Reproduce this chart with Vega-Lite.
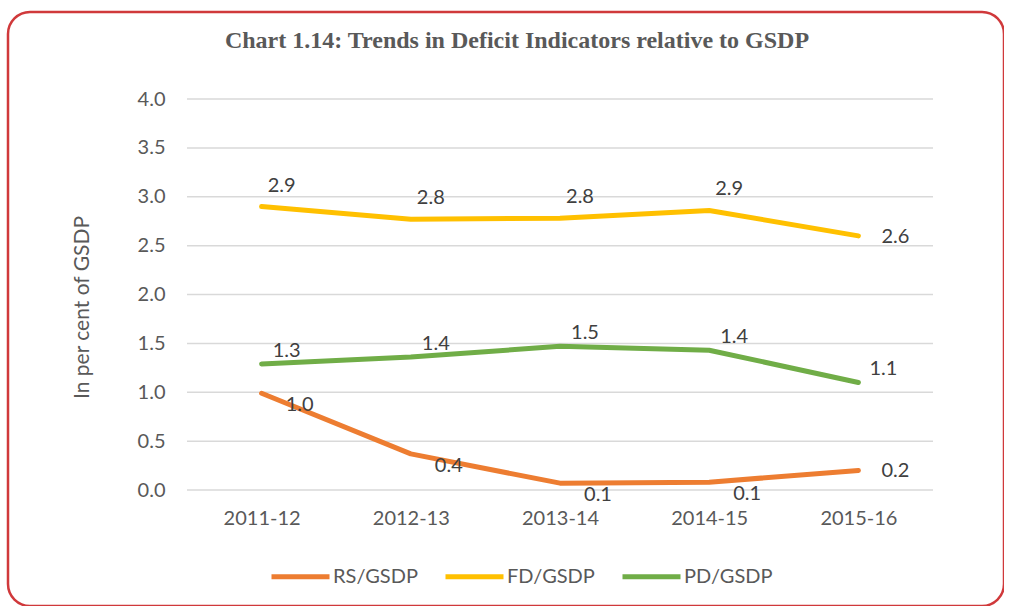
{
  "$schema": "https://vega.github.io/schema/vega-lite/v6.json",
  "autosize": {"type": "none"},
  "padding": {"left": 8, "top": 12, "right": 0, "bottom": 0},
  "width": 996,
  "height": 594,
  "background": "white",
  "title": {
    "text": "Chart 1.14: Trends in Deficit Indicators relative to GSDP",
    "font": "Liberation Serif",
    "fontSize": 24,
    "fontWeight": "bold",
    "color": "#595959",
    "anchor": "middle",
    "frame": "group",
    "baseline": "middle",
    "offset": -53,
    "dx": 11
  },
  "datasets": {
    "grid": [{"g": 0}, {"g": 0.5}, {"g": 1}, {"g": 1.5}, {"g": 2}, {"g": 2.5}, {"g": 3}, {"g": 3.5}, {"g": 4}],
    "series": [
      {"year": "2011-12", "series": "RS/GSDP", "value": 0.99},
      {"year": "2012-13", "series": "RS/GSDP", "value": 0.37},
      {"year": "2013-14", "series": "RS/GSDP", "value": 0.07},
      {"year": "2014-15", "series": "RS/GSDP", "value": 0.08},
      {"year": "2015-16", "series": "RS/GSDP", "value": 0.2},
      {"year": "2011-12", "series": "FD/GSDP", "value": 2.9},
      {"year": "2012-13", "series": "FD/GSDP", "value": 2.77},
      {"year": "2013-14", "series": "FD/GSDP", "value": 2.78},
      {"year": "2014-15", "series": "FD/GSDP", "value": 2.86},
      {"year": "2015-16", "series": "FD/GSDP", "value": 2.6},
      {"year": "2011-12", "series": "PD/GSDP", "value": 1.29},
      {"year": "2012-13", "series": "PD/GSDP", "value": 1.36},
      {"year": "2013-14", "series": "PD/GSDP", "value": 1.47},
      {"year": "2014-15", "series": "PD/GSDP", "value": 1.43},
      {"year": "2015-16", "series": "PD/GSDP", "value": 1.1}
    ]
  },
  "resolve": {"scale": {"x": "independent"}, "axis": {"x": "independent"}},
  "layer": [
    {
      "data": {"name": "grid"},
      "mark": {"type": "rule", "color": "#d9d9d9", "strokeWidth": 1.5},
      "encoding": {
        "x": {"datum": 0, "type": "quantitative", "scale": {"domain": [0, 1], "range": [179, 925]}, "axis": null},
        "x2": {"datum": 1},
        "y": {
          "field": "g",
          "type": "quantitative",
          "title": "In per cent of GSDP",
          "scale": {"domain": [0, 4], "range": [478, 87], "nice": false, "zero": true},
          "axis": {
            "title": "In per cent of GSDP",
            "values": [0, 0.5, 1, 1.5, 2, 2.5, 3, 3.5, 4],
            "format": ".1f",
            "domain": false,
            "ticks": false,
            "grid": false,
            "offset": -179,
            "labelPadding": 22,
            "labelFont": "Lato",
            "labelFontSize": 20,
            "labelColor": "#595959",
            "titleFont": "Lato",
            "titleFontSize": 21,
            "titleFontWeight": "normal",
            "titleColor": "#595959",
            "titlePadding": 45,
            "titleY": 295
          }
        }
      }
    },
    {
      "data": {"name": "series"},
      "encoding": {
        "x": {
          "field": "year",
          "type": "nominal",
          "title": null,
          "sort": ["2011-12", "2012-13", "2013-14", "2014-15", "2015-16"],
          "scale": {"type": "point", "padding": 0.5, "range": [179, 925], "domain": ["2011-12", "2012-13", "2013-14", "2014-15", "2015-16"]},
          "axis": {
            "title": null,
            "domain": false,
            "ticks": false,
            "grid": false,
            "labelAngle": 0,
            "offset": -116,
            "labelPadding": 18,
            "labelFont": "Lato",
            "labelFontSize": 20,
            "labelColor": "#595959"
          }
        },
        "y": {
          "field": "value",
          "type": "quantitative",
          "title": "In per cent of GSDP",
          "axis": {
            "title": "In per cent of GSDP",
            "values": [0, 0.5, 1, 1.5, 2, 2.5, 3, 3.5, 4],
            "format": ".1f",
            "domain": false,
            "ticks": false,
            "grid": false,
            "offset": -179,
            "labelPadding": 22,
            "labelFont": "Lato",
            "labelFontSize": 20,
            "labelColor": "#595959",
            "titleFont": "Lato",
            "titleFontSize": 21,
            "titleFontWeight": "normal",
            "titleColor": "#595959",
            "titlePadding": 45,
            "titleY": 295
          }
        }
      },
      "layer": [
        {
          "mark": {"type": "line", "strokeWidth": 5, "strokeCap": "round", "strokeJoin": "round"},
          "encoding": {
            "color": {
              "field": "series",
              "type": "nominal",
              "scale": {"domain": ["RS/GSDP", "FD/GSDP", "PD/GSDP"], "range": ["#ED7D31", "#FFC000", "#70AD47"]},
              "legend": {
                "title": null,
                "orient": "none",
                "legendX": 261,
                "legendY": 533,
                "direction": "horizontal",
                "symbolType": "stroke",
                "symbolSize": 3364,
                "symbolStrokeWidth": 5,
                "labelFont": "Lato",
                "labelFontSize": 20,
                "labelColor": "#595959",
                "labelOffset": 1,
                "columnPadding": 17
              }
            }
          }
        },
        {
          "transform": [{"filter": "datum.series == 'FD/GSDP' && datum.year != '2015-16'"}],
          "mark": {"type": "text", "font": "Lato", "fontSize": 20, "color": "#404040", "dx": 20, "dy": -21},
          "encoding": {
            "text": {"field": "value", "type": "quantitative", "format": ".1f"}
          }
        },
        {
          "transform": [{"filter": "datum.series != 'PD/GSDP' && datum.year == '2015-16'"}],
          "mark": {"type": "text", "font": "Lato", "fontSize": 20, "color": "#404040", "dx": 37, "dy": 1},
          "encoding": {
            "text": {"field": "value", "type": "quantitative", "format": ".1f"}
          }
        },
        {
          "transform": [{"filter": "datum.series == 'PD/GSDP'"}],
          "mark": {"type": "text", "font": "Lato", "fontSize": 20, "color": "#404040", "dx": 25, "dy": -13},
          "encoding": {
            "text": {"field": "value", "type": "quantitative", "format": ".1f"}
          }
        },
        {
          "transform": [{"filter": "datum.series == 'RS/GSDP' && datum.year != '2015-16'"}],
          "mark": {"type": "text", "font": "Lato", "fontSize": 20, "color": "#404040", "dx": 38, "dy": 12},
          "encoding": {
            "text": {"field": "value", "type": "quantitative", "format": ".1f"}
          }
        }
      ]
    }
  ],
  "config": {
    "view": {"stroke": "#d0393b", "strokeWidth": 2.5, "cornerRadius": 22}
  }
}
